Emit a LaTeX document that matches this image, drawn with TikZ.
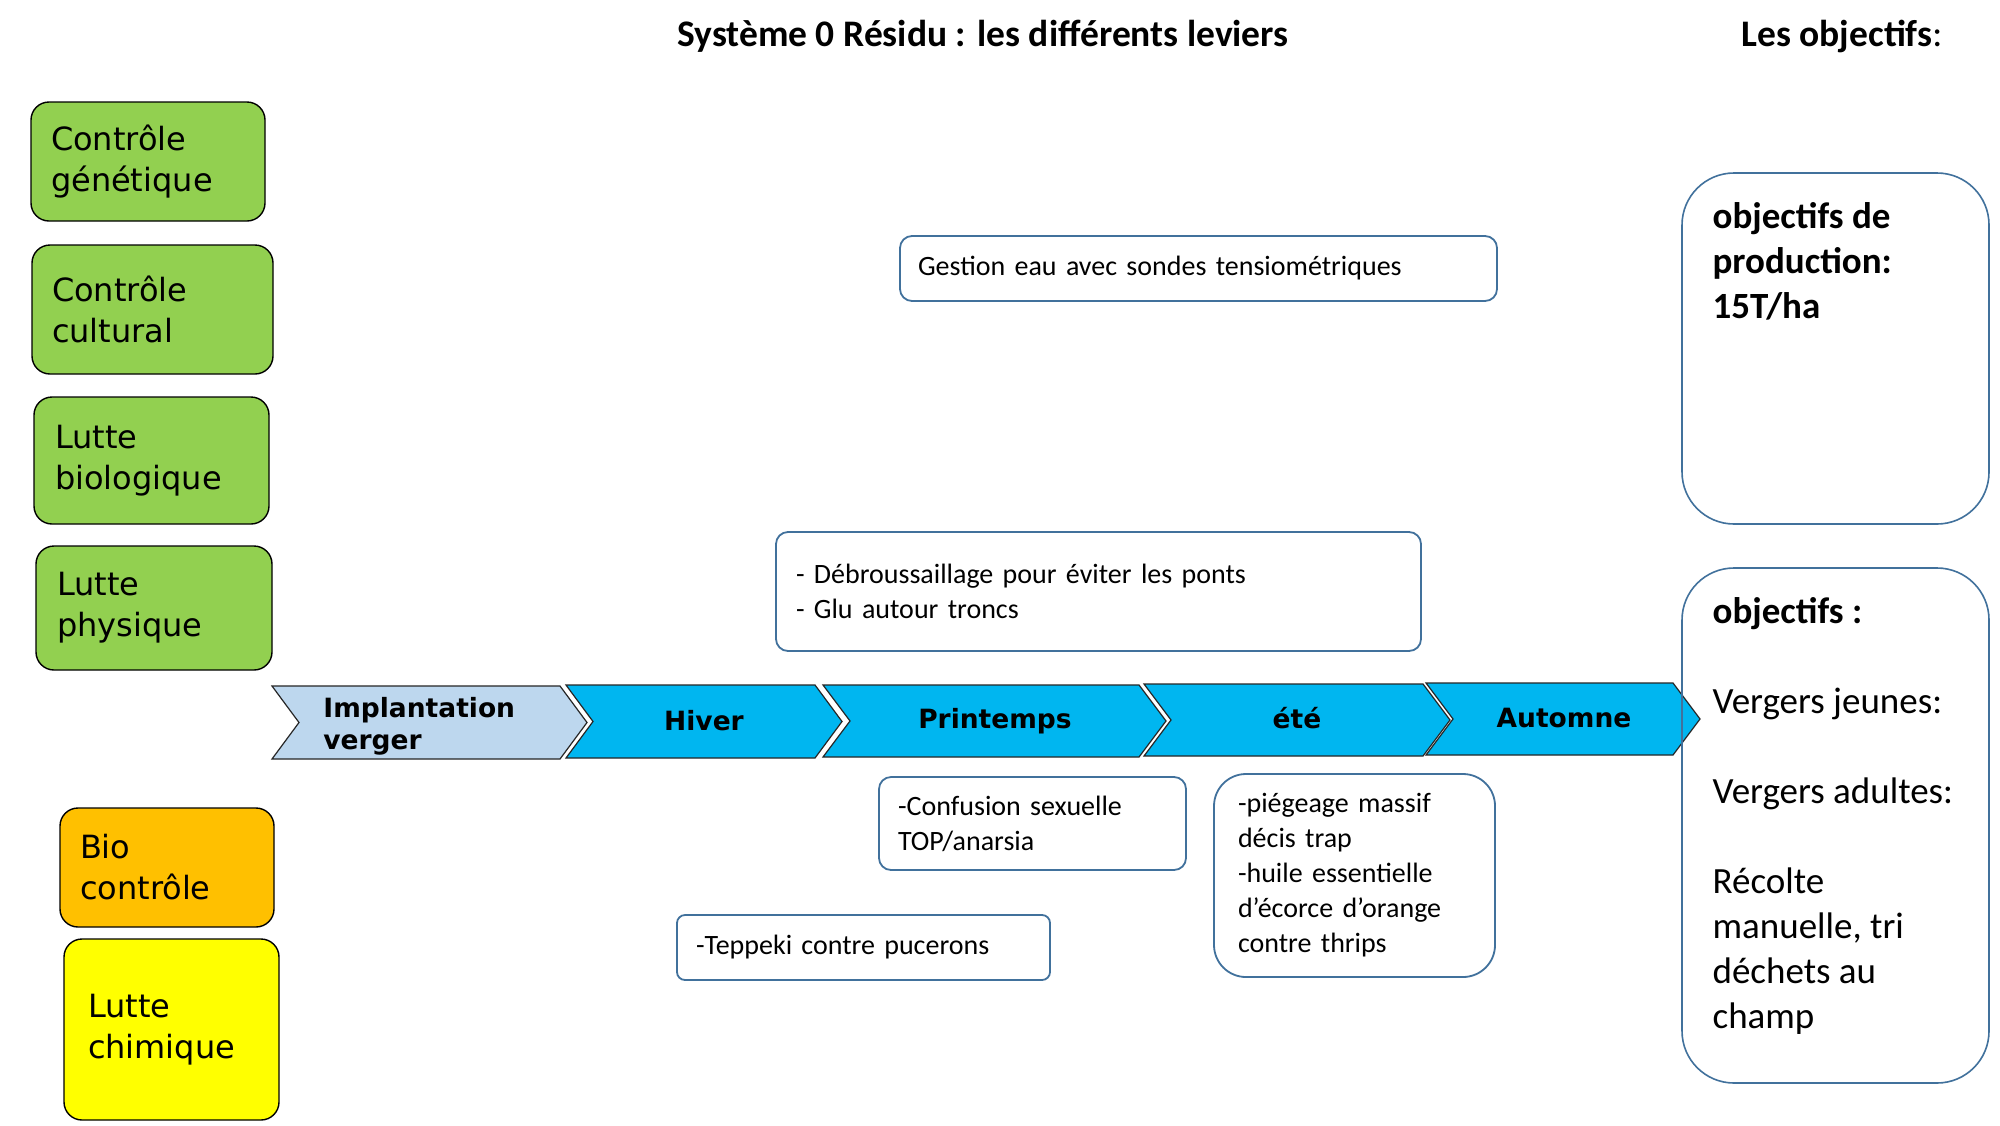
\documentclass[tikz,border=0pt]{standalone}
\usepackage{fontspec}
\setmainfont{Carlito}
\newfontfamily\dejavu{DejaVu Sans}
\usetikzlibrary{calc}
\definecolor{leaf}{RGB}{146, 208, 80}
\definecolor{amber}{RGB}{255, 192, 0}
\definecolor{lemon}{RGB}{255, 255, 0}
\definecolor{season}{RGB}{0, 182, 240}
\definecolor{pale}{RGB}{189, 215, 238}
\definecolor{steel}{RGB}{65, 113, 156}

\begin{document}
\begin{tikzpicture}[x=0.5pt, y=-0.5pt,
  lever/.style={draw=black, line width=0.7pt, rounded corners=9pt, inner sep=0pt,
    align=left, font=\dejavu\fontsize{16}{20.5}\selectfont},
  note/.style={draw=steel, line width=0.9pt, rounded corners=6pt, inner sep=0pt,
    align=left, font=\fontsize{14}{17.5}\selectfont},
  goal/.style={draw=steel, line width=0.8pt, rounded corners=26pt, inner sep=0pt},
  goaltext/.style={anchor=north west, inner sep=0pt, align=left,
    font=\fontsize{18.5}{22.5}\selectfont},
  seasonlabel/.style={inner sep=0pt, font=\dejavu\bfseries\fontsize{13.25}{16}\selectfont}]
  \path[use as bounding box, fill=white] (0, 0) rectangle (2000, 1125);

  % Titles
  \node[inner sep=0pt, font=\bfseries\fontsize{18.75}{22}\selectfont] (title) at (983, 36)
    {Système 0 Résidu : les différents leviers};
  \node[anchor=west, inner sep=0pt, font=\fontsize{18.75}{22}\selectfont] (objectifs) at (1741, 36)
    {\textbf{Les objectifs}:};

  % Levers
  \node[lever, fill=leaf, minimum width=117pt, text width=97pt, minimum height=59.5pt]
    (genetique) at (148, 161.5) {Contrôle\\génétique};
  \node[lever, fill=leaf, minimum width=120.5pt, text width=100.5pt, minimum height=64.5pt]
    (cultural) at (152.5, 309.5) {Contrôle\\cultural};
  \node[lever, fill=leaf, minimum width=117.5pt, text width=96.5pt, minimum height=63.5pt]
    (biologique) at (151.5, 460.5) {Lutte\\biologique};
  \node[lever, fill=leaf, minimum width=118pt, text width=97pt, minimum height=62pt]
    (physique) at (154, 608) {Lutte\\physique};
  \node[lever, fill=amber, minimum width=107pt, text width=87pt, minimum height=59.5pt]
    (biocontrole) at (167, 867.5) {Bio\\contrôle};
  \node[lever, fill=lemon, minimum width=107.5pt, text width=83.5pt, minimum height=90.5pt]
    (chimique) at (171.5, 1029.5) {Lutte\\chimique};

  % Seasons
  \foreach \xa/\xb/\ya/\yb/\col in {272/587/686/759/pale, 566/842/685/758/season,
      823/1166/685/757/season, 1144/1450/684/756/season, 1426/1700/683/755/season} {
    \draw[fill=\col, draw=black!85, line width=0.6pt]
      (\xa, \ya) -- (\xb-27, \ya) -- (\xb, {(\ya+\yb)/2}) -- (\xb-27, \yb)
      -- (\xa, \yb) -- (\xa+27, {(\ya+\yb)/2}) -- cycle;
  }
  \node[seasonlabel, anchor=west, align=left] (implantation) at (323, 726) {Implantation\\verger};
  \node[seasonlabel] (hiver) at (704, 721) {Hiver};
  \node[seasonlabel] (printemps) at (995, 721) {Printemps};
  \node[seasonlabel] (ete) at (1297, 718) {été};
  \node[seasonlabel] (automne) at (1564, 718) {Automne};

  % Actions
  \node[note, minimum width=298.5pt, text width=280.5pt, minimum height=32.5pt]
    (gestion) at (1198.5, 268.5) {Gestion eau avec sondes tensiométriques};
  \node[note, minimum width=322.5pt, text width=302.5pt, minimum height=59.5pt]
    (debroussaillage) at (1098.5, 591.5)
    {- Débroussaillage pour éviter les ponts\\- Glu autour troncs};
  \node[note, minimum width=153.5pt, text width=134.5pt, minimum height=46.5pt]
    (confusion) at (1032.5, 823.5) {-Confusion sexuelle\\TOP/anarsia};
  \node[note, rounded corners=16pt, minimum width=140.5pt, text width=116.5pt, minimum height=101.5pt]
    (piegeage) at (1354.5, 875.5)
    {-piégeage massif\\décis trap\\-huile essentielle\\d’écorce d’orange\\contre thrips};
  \node[note, rounded corners=4pt, minimum width=186.5pt, text width=167.5pt, minimum height=32.5pt]
    (teppeki) at (863.5, 947.5) {-Teppeki contre pucerons};

  % Goals
  \node[goal, minimum width=153.5pt, minimum height=175.5pt] (production) at (1835.5, 348.5) {};
  \node[goaltext] (productiontext) at ($(production.north west)+(31, 30)$)
    {\textbf{objectifs de}\\\textbf{production:}\\\textbf{15T/ha}};
  \node[goal, minimum width=153.5pt, minimum height=257.5pt] (vergers) at (1835.5, 825.5) {};
  \node[goaltext] (vergerstext) at ($(vergers.north west)+(31, 30)$)
    {\textbf{objectifs :}\\[22.5pt]Vergers jeunes:\\[22.5pt]Vergers adultes:\\[22.5pt]%
     Récolte\\manuelle, tri\\déchets au\\champ};
\end{tikzpicture}
\end{document}
